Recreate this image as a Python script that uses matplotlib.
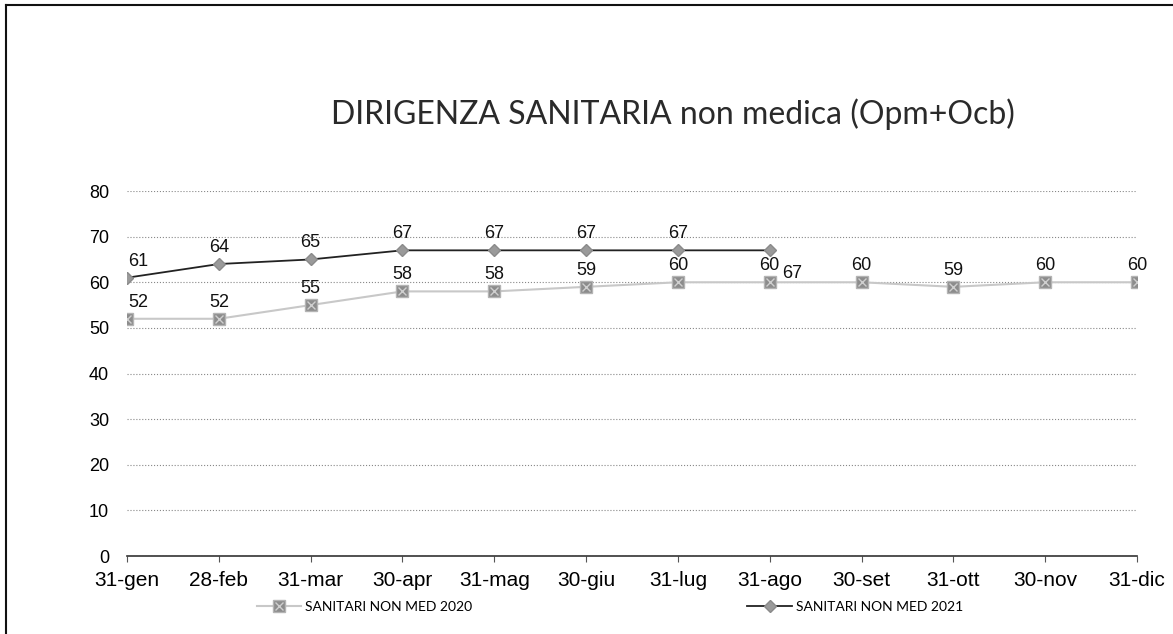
import matplotlib.pyplot as plt
from matplotlib.lines import Line2D

# Data
months = ["31-gen", "28-feb", "31-mar", "30-apr", "31-mag", "30-giu",
          "31-lug", "31-ago", "30-set", "31-ott", "30-nov", "31-dic"]
vals_2020 = [52, 52, 55, 58, 58, 59, 60, 60, 60, 59, 60, 60]
vals_2021 = [61, 64, 65, 67, 67, 67, 67, 67]
yticks = [0, 10, 20, 30, 40, 50, 60, 70, 80]

fig = plt.figure(figsize=(11.73, 6.34), dpi=100)
ax = fig.add_axes([0.1083, 0.123, 0.861, 0.5757])

x20 = list(range(len(vals_2020)))
x21 = list(range(len(vals_2021)))

l20, = ax.plot(x20, vals_2020, color="#c8c8c8", lw=1.5, marker="s", ms=8.5,
               mfc="#8c8c8c", mec="#b4b4b4", zorder=3)
# light cross pattern inside the square markers
l20x, = ax.plot(x20, vals_2020, ls="none", marker="x", ms=5.5,
                mec="#cfcfcf", mew=1, zorder=3.5)
l21, = ax.plot(x21, vals_2021, color="#222222", lw=1.3, marker="D", ms=6,
               mfc="#9a9a9a", mec="#8a8a8a", zorder=4)

lbl_font = dict(fontsize=13, family="Liberation Sans", color="#111111")
for i, v in enumerate(vals_2020):
    dx = 8 if i == 0 else 0
    ax.annotate(str(v), (i, v), xytext=(dx, 12), textcoords="offset points",
                ha="center", va="center", **lbl_font)
for i, v in enumerate(vals_2021):
    dx, dy = (8, 12) if i == 0 else (0, 12)
    if i == len(vals_2021) - 1:
        # last label sits beside the 2020 label in the reference
        dx, dy = (16, -17)
    ax.annotate(str(v), (i, v), xytext=(dx, dy), textcoords="offset points",
                ha="center", va="center", **lbl_font)

ax.set_xlim(0, len(months) - 1)
ax.set_ylim(0, 80)
ax.set_xticks(x20)
ax.set_xticklabels(months, fontsize=15, family="Liberation Sans")
ax.set_yticks(yticks)
ax.set_yticklabels([str(t) for t in yticks], fontsize=13, family="Liberation Sans")
ax.tick_params(axis="y", length=0, pad=13)
ax.tick_params(axis="x", length=4, color="#555555", pad=7)

ax.grid(axis="y", ls=":", color="#888888", lw=0.8)
ax.set_axisbelow(True)
for s in ["top", "right", "left"]:
    ax.spines[s].set_visible(False)
ax.spines["bottom"].set_color("#333333")
ax.spines["bottom"].set_linewidth(1.2)

fig.text(0.574, 0.82, "DIRIGENZA SANITARIA non medica (Opm+Ocb)",
         ha="center", va="center", fontsize=23, family="Lato", color="#2a2a2a")

fig.legend([(l20, l20x), l21], ["SANITARI NON MED 2020", "SANITARI NON MED 2021"],
           loc="center", bbox_to_anchor=(0.52, 0.043), ncol=2, frameon=False,
           columnspacing=19.8, handlelength=3.2, handletextpad=0.3,
           prop={"family": "Lato", "size": 10})

# scanned page edges: only left and top border visible
fig.add_artist(Line2D([0.005, 0.005], [0, 0.992], transform=fig.transFigure,
                      color="#111111", lw=1.5))
fig.add_artist(Line2D([0.005, 1], [0.992, 0.992], transform=fig.transFigure,
                      color="#111111", lw=1.5))

fig.savefig("out.png", dpi=100)
